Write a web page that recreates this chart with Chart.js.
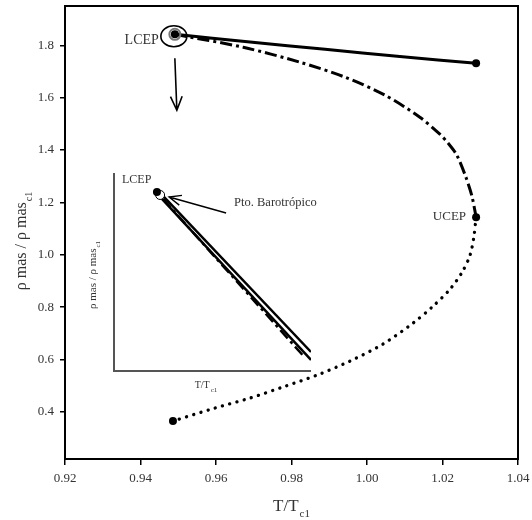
<!DOCTYPE html>
<html>
<head>
<meta charset="utf-8">
<script src="https://cdn.jsdelivr.net/npm/chart.js@4.4.1/dist/chart.umd.min.js"></script>
<style>
  body { margin: 0; background: #fff; }
  #wrap { position: relative; width: 532px; height: 520px; }
  #mainChart { position: absolute; left: 0; top: 0; }
  #insetChart { position: absolute; left: 60px; top: 150px; }
</style>
</head>
<body>
<div id="wrap">
  <canvas id="mainChart" width="532" height="520"></canvas>
  <canvas id="insetChart" width="290" height="260"></canvas>
</div>
<script>
// axis ticks
const xTicks = [0.92, 0.94, 0.96, 0.98, 1.00, 1.02, 1.04];
const yTicks = [0.4, 0.6, 0.8, 1.0, 1.2, 1.4, 1.6, 1.8];

// liquid branch from LCEP (solid)
const solidT = [0.9491, 0.9690, 0.9889, 1.0087, 1.0289];
const solidRho = [1.842, 1.8126, 1.7847, 1.7573, 1.731];

// LCEP -> UCEP (dash-dot)
const dashT = [0.9491, 0.9672, 0.9823, 0.9942, 1.0048, 1.0140, 1.0193, 1.0215, 1.0238, 1.0262, 1.0278, 1.0289];
const dashRho = [1.842, 1.7924, 1.7351, 1.6779, 1.6092, 1.5252, 1.4603, 1.4260, 1.3802, 1.2962, 1.2237, 1.1435];

// UCEP -> low density end (dotted)
const dotT = [1.0289, 1.0283, 1.0273, 1.0252, 1.0220, 1.0175, 1.0122, 1.0042, 0.9955, 0.9868, 0.9777, 0.9690, 0.9597, 0.9486];
const dotRho = [1.1435, 1.0672, 0.9985, 0.9336, 0.8687, 0.8038, 0.7389, 0.6588, 0.5939, 0.5405, 0.4947, 0.4527, 0.4145, 0.3649];

// end points: LCEP, solid end, UCEP, dotted end
const critT = [0.9491, 1.0289, 1.0289, 0.9486];
const critRho = [1.842, 1.731, 1.1435, 0.3649];

// zoom near LCEP, in relative units of the small frame
const insetUpperX = [0.244, 1.0];
const insetUpperY = [0.889, 0.096];
const insetLowerX = [0.234, 1.0];
const insetLowerY = [0.879, 0.056];
const insetDashX = [0.249, 0.965];
const insetDashY = [0.869, 0.072];
const insetLcep = [0.218, 0.904];
const insetBaro = [0.234, 0.889];

const SERIF = '"Liberation Serif", "DejaVu Serif", serif';
const TEXT = '#333';

function pts(xs, ys) {
  return xs.map(function (x, i) { return { x: x, y: ys[i] }; });
}

// text followed by a subscript, anchored at its centre
function subText(ctx, x, y, main, sub, size, subSize) {
  ctx.font = size + 'px ' + SERIF;
  const w1 = ctx.measureText(main).width;
  ctx.font = subSize + 'px ' + SERIF;
  const w2 = ctx.measureText(sub).width;
  const start = x - (w1 + w2 + 1) / 2;
  ctx.textAlign = 'left';
  ctx.textBaseline = 'alphabetic';
  ctx.font = size + 'px ' + SERIF;
  ctx.fillText(main, start, y);
  ctx.font = subSize + 'px ' + SERIF;
  ctx.fillText(sub, start + w1 + 1, y + size * 0.35);
}

function arrow(ctx, x1, y1, x2, y2, head) {
  const a = Math.atan2(y2 - y1, x2 - x1);
  ctx.beginPath();
  ctx.moveTo(x1, y1);
  ctx.lineTo(x2, y2);
  ctx.moveTo(x2 - head * Math.cos(a - 0.4), y2 - head * Math.sin(a - 0.4));
  ctx.lineTo(x2, y2);
  ctx.lineTo(x2 - head * Math.cos(a + 0.4), y2 - head * Math.sin(a + 0.4));
  ctx.stroke();
}

const mainDecor = {
  id: 'mainDecor',
  afterDraw: function (chart) {
    const ctx = chart.ctx;
    const a = chart.chartArea;
    const xs = chart.scales.x;
    const ys = chart.scales.y;
    ctx.save();

    // frame
    ctx.strokeStyle = '#000';
    ctx.lineWidth = 2;
    ctx.strokeRect(a.left, a.top, a.right - a.left, a.bottom - a.top);

    // LCEP marker rings and arrow down to the zoom
    const px = xs.getPixelForValue(critT[0]);
    const py = ys.getPixelForValue(critRho[0]);
    ctx.lineWidth = 1.6;
    ctx.beginPath();
    ctx.ellipse(px - 1, py + 2, 13, 10.5, 0, 0, Math.PI * 2);
    ctx.stroke();
    ctx.strokeStyle = '#777';
    ctx.lineWidth = 2;
    ctx.beginPath();
    ctx.arc(px, py, 5.5, 0, Math.PI * 2);
    ctx.stroke();
    ctx.strokeStyle = '#000';
    ctx.lineWidth = 1.6;
    arrow(ctx, px, py + 24, px + 2, py + 76, 15);

    ctx.fillStyle = TEXT;
    ctx.font = '14px ' + SERIF;
    ctx.textAlign = 'right';
    ctx.textBaseline = 'middle';
    ctx.fillText('LCEP', px - 16, py + 6);
    const ux = xs.getPixelForValue(critT[2]);
    const uy = ys.getPixelForValue(critRho[2]);
    ctx.font = '13px ' + SERIF;
    ctx.fillText('UCEP', ux - 10, uy - 1);

    // axis titles
    subText(ctx, (a.left + a.right) / 2, 511, 'T/T', 'c1', 17, 11);
    ctx.translate(26, 241);
    ctx.rotate(-Math.PI / 2);
    subText(ctx, 0, 0, 'ρ mas / ρ mas', 'c1', 16, 10);
    ctx.restore();
  }
};

new Chart(document.getElementById('mainChart'), {
  type: 'scatter',
  data: {
    datasets: [
      {
        data: pts(critT, critRho),
        pointRadius: 4,
        pointBackgroundColor: '#000',
        pointBorderWidth: 0,
        showLine: false
      },
      {
        data: pts(solidT, solidRho),
        showLine: true,
        borderColor: '#000',
        borderWidth: 3,
        tension: 0.3,
        pointRadius: 0
      },
      {
        data: pts(dashT, dashRho),
        showLine: true,
        borderColor: '#000',
        borderWidth: 3,
        borderDash: [12, 4, 3, 4],
        tension: 0.3,
        pointRadius: 0
      },
      {
        data: pts(dotT, dotRho),
        showLine: true,
        borderColor: '#000',
        borderWidth: 3.3,
        borderDash: [0.1, 7.4],
        borderCapStyle: 'round',
        tension: 0.3,
        pointRadius: 0
      }
    ]
  },
  options: {
    responsive: false,
    animation: false,
    devicePixelRatio: 1,
    layout: { padding: { left: 0, top: 6, right: 14, bottom: 0 } },
    plugins: {
      legend: { display: false },
      tooltip: { enabled: false }
    },
    scales: {
      x: {
        type: 'linear',
        min: 0.92,
        max: 1.04,
        afterBuildTicks: function (s) {
          s.ticks = xTicks.map(function (v) { return { value: v }; });
        },
        afterFit: function (s) {
          s.height = 61;
          s.paddingLeft = 0;
          s.paddingRight = 0;
        },
        ticks: {
          callback: function (v) { return v.toFixed(2); },
          font: { family: SERIF, size: 13 },
          color: TEXT,
          padding: 6,
          maxRotation: 0
        },
        grid: {
          drawOnChartArea: false,
          tickLength: 6,
          color: '#000',
          lineWidth: 1.5
        },
        border: { display: false }
      },
      y: {
        type: 'linear',
        min: 0.22,
        max: 1.95,
        afterBuildTicks: function (s) {
          s.ticks = yTicks.map(function (v) { return { value: v }; });
        },
        afterFit: function (s) {
          s.width = 65;
          s.paddingTop = 0;
          s.paddingBottom = 0;
        },
        ticks: {
          callback: function (v) { return v.toFixed(1); },
          font: { family: SERIF, size: 13 },
          color: TEXT,
          padding: 6
        },
        grid: {
          drawOnChartArea: false,
          tickLength: 5,
          color: '#000',
          lineWidth: 1.5
        },
        border: { display: false }
      }
    }
  },
  plugins: [mainDecor]
});

const insetDecor = {
  id: 'insetDecor',
  beforeDatasetsDraw: function (chart) {
    const ctx = chart.ctx;
    const a = chart.chartArea;
    ctx.save();
    ctx.strokeStyle = '#555';
    ctx.lineWidth = 2;
    ctx.beginPath();
    ctx.moveTo(a.left, a.top);
    ctx.lineTo(a.left, a.bottom);
    ctx.lineTo(a.right, a.bottom);
    ctx.stroke();
    ctx.restore();
  },
  afterDraw: function (chart) {
    const ctx = chart.ctx;
    const a = chart.chartArea;
    const xs = chart.scales.x;
    const ys = chart.scales.y;
    ctx.save();
    const bx = xs.getPixelForValue(insetBaro[0]);
    const by = ys.getPixelForValue(insetBaro[1]);
    ctx.strokeStyle = '#000';
    ctx.lineWidth = 1.4;
    arrow(ctx, bx + 66, by + 18, bx + 9, by + 2, 13);

    ctx.fillStyle = TEXT;
    ctx.textAlign = 'left';
    ctx.textBaseline = 'middle';
    ctx.font = '12.5px ' + SERIF;
    ctx.fillText('Pto. Barotrópico', bx + 74, by + 8);
    ctx.font = '12px ' + SERIF;
    ctx.fillText('LCEP', a.left + 8, a.top + 7);

    subText(ctx, a.left + 92, a.bottom + 17, 'T/T', 'c1', 10, 7);
    ctx.translate(a.left - 18, a.top + 102);
    ctx.rotate(-Math.PI / 2);
    subText(ctx, 0, 0, 'ρ mas / ρ mas', 'c1', 11, 7);
    ctx.restore();
  }
};

new Chart(document.getElementById('insetChart'), {
  type: 'scatter',
  data: {
    datasets: [
      {
        data: [{ x: insetLcep[0], y: insetLcep[1] }],
        pointRadius: 4,
        pointBackgroundColor: '#000',
        pointBorderWidth: 0
      },
      {
        data: [{ x: insetBaro[0], y: insetBaro[1] }],
        pointRadius: 4.5,
        pointBackgroundColor: '#fff',
        pointBorderColor: '#000',
        pointBorderWidth: 1
      },
      {
        data: pts(insetUpperX, insetUpperY),
        showLine: true,
        borderColor: '#000',
        borderWidth: 2.5,
        pointRadius: 0
      },
      {
        data: pts(insetLowerX, insetLowerY),
        showLine: true,
        borderColor: '#000',
        borderWidth: 2.5,
        pointRadius: 0
      },
      {
        data: pts(insetDashX, insetDashY),
        showLine: true,
        borderColor: '#000',
        borderWidth: 2.5,
        borderDash: [11, 4, 3, 4],
        pointRadius: 0
      }
    ]
  },
  options: {
    responsive: false,
    animation: false,
    devicePixelRatio: 1,
    layout: { padding: { left: 54, top: 23, right: 39, bottom: 39 } },
    plugins: {
      legend: { display: false },
      tooltip: { enabled: false }
    },
    scales: {
      x: { type: 'linear', min: 0, max: 1, display: false },
      y: { type: 'linear', min: 0, max: 1, display: false }
    }
  },
  plugins: [insetDecor]
});
</script>
</body>
</html>
